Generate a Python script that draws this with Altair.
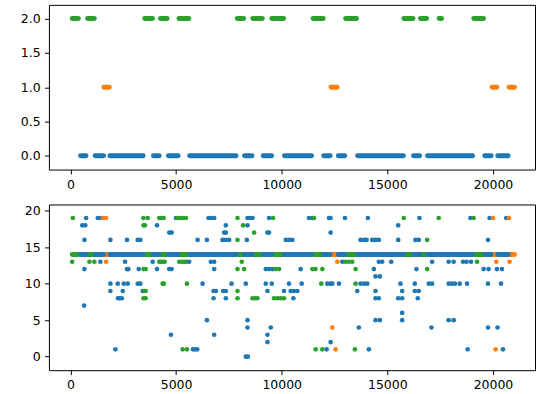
import altair as alt
import pandas as pd

# ---- top panel: runs of consecutive indices per class (start, end, class) ----
run_start = [85, 813, 3519, 4261, 5140, 7898, 8636, 9533, 11489, 13029, 15788, 16572, 17455, 19094,
             1583, 12339, 19959, 20762,
             482, 1172, 1866, 3930, 4639, 5645, 8243, 9127, 10133, 11990, 12684, 13596, 16241, 16903, 19614, 20228]
run_end = [373, 1129, 3883, 4577, 5603, 8201, 9080, 10090, 11961, 13539, 16213, 16860, 17568, 19553,
           1838, 12623, 20181, 21017,
           737, 1568, 3444, 4200, 5097, 7837, 8593, 9524, 11413, 12292, 12986, 15760, 16529, 19033, 19916, 20719]
run_class = [2] * 14 + [1] * 4 + [0] * 16

# ---- bottom panel: the common value of the series and the scattered points ----
base_value = 14
pt_x = [113, 560, 700, 742, 662, 662, 647, 80, 900, 1130, 1294, 1450, 1540, 1680, 1417, 1687, 1890, 1890, 1890,
        2126, 2239, 2250, 2330, 2430, 2475, 2522, 2711, 2584, 2678, 2740, 2678, 3184, 3307, 3184, 3307, 3231, 3420,
        3480, 3560, 3460, 3560, 3460, 3560, 3460, 3530, 3450, 3656, 3893, 4096, 4096, 4205, 4300, 4412,
        4205, 4300, 4380, 4460, 4365, 4420, 4677, 4790, 4677, 4790, 4757, 4993, 5073, 5200, 5330, 5466,
        5150, 5270, 5385, 5310, 5513, 5513, 5500, 5620,
        5800, 5900, 6000, 6538, 6650, 6803, 6647, 6803, 6803, 6254, 6774, 6883, 6774, 6458, 6803, 6018, 6458,
        7355, 7276, 7355, 7200, 7350, 7512, 7908, 7230, 7355, 7355, 7624, 7908, 8380, 8500, 8616, 8173, 8380,
        8692, 8347, 8111, 7908, 8220, 8300, 7908, 7908, 8616, 8730, 8852, 8380, 8380, 8300, 8400,
        9325, 9400, 9400, 9590, 9245, 9400, 9561, 9717, 9873, 9245, 9530, 9325, 9637, 9800, 9950, 10109,
        9482, 9325, 9325, 10190, 10350, 10506, 10346, 10109, 10426, 10580, 10742, 10553, 10899, 10946,
        11290, 11451, 11527, 11451, 11600, 11923, 11607, 11923, 12127, 11876, 12159, 12300, 12395,
        12238, 12316, 12316, 12395, 12552, 12316, 12631, 12710, 12868, 13025, 13180, 13340, 12993,
        13577, 13497, 13497, 13652, 13465, 13733,
        14078, 13900, 14017, 14285, 14440, 14597, 13733, 13900, 14050, 14361, 14441, 14645, 14441, 14441, 14597,
        14441, 14645, 14125, 14597, 14757, 15182, 15513, 15513, 15622, 15702, 15513, 15702, 15702, 15702, 15778,
        16331, 16488, 16883, 16520, 16379, 16883, 16300, 16300, 16488, 16441, 17120, 16962, 17120, 17087, 17432,
        17904, 18140, 17904, 18050, 18200, 18424, 18773, 17904, 18140, 18584, 18750, 18962, 18802, 19246,
        18930, 19085, 19557, 19793, 19765, 19765, 19765, 19841, 20001, 20158, 20190, 20427, 20380, 20218,
        20125, 20474, 20630, 20757, 20787]
pt_y = [19, 18, 18, 19, 16, 12, 7, 13, 13, 13, 19, 19, 19, 19, 13, 13, 16, 10, 9,
        1, 10, 8, 8, 8, 9, 10, 10, 13, 12, 12, 16, 16, 16, 10, 10, 12, 9,
        9, 9, 8, 8, 12, 12, 18, 18, 19, 19, 13, 12, 18, 19, 19, 19,
        13, 13, 13, 13, 10, 10, 17, 17, 12, 12, 3, 19, 19, 19, 19, 19,
        13, 13, 13, 1, 1, 10, 13, 13,
        1, 1, 1, 19, 19, 19, 13, 13, 12, 10, 9, 9, 8, 5, 3, 16, 16,
        18, 17, 17, 16, 16, 16, 16, 9, 9, 8, 10, 19, 19, 19, 19, 18, 18,
        17, 16, 13, 12, 12, 10, 9, 8, 8, 8, 8, 5, 4, 0, 0,
        17, 17, 19, 19, 12, 12, 12, 12, 12, 10, 10, 9, 8, 8, 8, 8,
        4, 3, 2, 16, 16, 16, 10, 9, 9, 9, 9, 8, 12, 10,
        19, 19, 19, 12, 12, 12, 1, 1, 1, 10, 10, 10, 10,
        19, 19, 17, 4, 1, 2, 13, 10, 13, 13, 13, 13, 19,
        9, 12, 10, 4, 1, 16,
        19, 16, 16, 16, 16, 16, 10, 10, 10, 12, 11, 11, 9, 8, 8,
        5, 5, 1, 13, 13, 13, 18, 16, 10, 9, 8, 8, 6, 5, 19,
        16, 16, 16, 19, 12, 12, 10, 9, 9, 8, 13, 10, 10, 4, 19,
        13, 13, 10, 10, 10, 10, 10, 5, 5, 13, 13, 13, 1, 13,
        19, 19, 12, 12, 16, 10, 4, 19, 19, 13, 12, 12, 10, 4,
        1, 1, 19, 19, 13]
pt_class = [2, 0, 0, 0, 0, 0, 0, 2, 2, 2, 0, 0, 1, 1, 0, 1, 0, 0, 0,
            0, 0, 0, 0, 0, 0, 0, 0, 0, 0, 0, 0, 0, 0, 0, 0, 0, 0,
            2, 2, 2, 2, 2, 2, 2, 2, 2, 2, 0, 0, 0, 2, 2, 2,
            2, 2, 2, 2, 2, 2, 0, 0, 0, 0, 0, 0, 2, 2, 2, 2,
            2, 2, 2, 2, 2, 2, 2, 0,
            0, 0, 0, 0, 0, 0, 0, 0, 0, 0, 0, 0, 0, 0, 0, 0, 0,
            0, 0, 0, 0, 0, 0, 2, 0, 0, 0, 0, 2, 0, 0, 0, 2, 0,
            2, 0, 2, 2, 2, 0, 2, 2, 2, 2, 2, 0, 0, 0, 0,
            0, 0, 0, 2, 0, 0, 0, 2, 2, 0, 0, 0, 2, 2, 2, 2,
            0, 0, 0, 0, 0, 0, 0, 0, 0, 0, 0, 0, 0, 0,
            0, 0, 2, 2, 2, 2, 2, 2, 0, 2, 0, 0, 0,
            0, 0, 0, 1, 1, 0, 1, 0, 0, 2, 2, 2, 0,
            0, 2, 2, 0, 2, 0,
            0, 0, 0, 0, 0, 0, 0, 0, 0, 0, 0, 0, 0, 0, 0,
            0, 0, 0, 0, 0, 0, 0, 0, 0, 0, 0, 0, 0, 0, 2,
            0, 0, 2, 0, 0, 2, 0, 0, 0, 0, 0, 0, 0, 0, 2,
            0, 0, 0, 0, 0, 0, 0, 0, 0, 0, 0, 0, 0, 2,
            0, 2, 0, 0, 0, 0, 0, 0, 1, 1, 0, 0, 0, 0,
            1, 0, 0, 1, 1]

class_domain = [0, 1, 2]
class_colors = ["#1f77b4", "#ff7f0e", "#2ca02c"]

x_ticks = [0, 5000, 10000, 15000, 20000]
top_y_ticks = [0.0, 0.5, 1.0, 1.5, 2.0]
bottom_y_ticks = [0, 5, 10, 15, 20]

runs = pd.DataFrame({"start": run_start, "end": run_end, "cls": run_class})
runs["base"] = base_value
pts = pd.DataFrame({"x": pt_x, "y": pt_y, "cls": pt_class})

color = alt.Color("cls:N", scale=alt.Scale(domain=class_domain, range=class_colors), legend=None)
x_scale = alt.Scale(domain=[-1020, 21990], nice=False, zero=False)


def axis(vals, fmt):
    return alt.Axis(values=vals, format=fmt, title=None, grid=False, domain=False,
                    labelFont="DejaVu Sans", labelFontSize=12.5, labelColor="#000000",
                    tickColor="#000000", tickSize=4.4, tickWidth=1, labelPadding=4.4)


W, H = 487, 165

top = alt.Chart(runs).mark_rule(strokeWidth=5, strokeCap="round").encode(
    x=alt.X("start:Q", scale=x_scale, axis=axis(x_ticks, "d")),
    x2="end:Q",
    y=alt.Y("cls:Q", scale=alt.Scale(domain=[-0.2, 2.2], nice=False, zero=False),
            axis=axis(top_y_ticks, ".1f")),
    color=color,
).properties(width=W, height=H)

y_bottom = alt.Scale(domain=[-1.85, 20.85], nice=False, zero=False)
bottom_line = alt.Chart(runs).mark_rule(strokeWidth=5, strokeCap="round").encode(
    x=alt.X("start:Q", scale=x_scale, axis=axis(x_ticks, "d")),
    x2="end:Q",
    y=alt.Y("base:Q", scale=y_bottom, axis=axis(bottom_y_ticks, "d")),
    color=color,
)
bottom_pts = alt.Chart(pts).mark_circle(size=22, opacity=1).encode(
    x=alt.X("x:Q", scale=x_scale, axis=axis(x_ticks, "d")),
    y=alt.Y("y:Q", scale=y_bottom, axis=axis(bottom_y_ticks, "d")),
    color=color,
)
bottom = alt.layer(bottom_line, bottom_pts).properties(width=W, height=H + 1)

chart = alt.vconcat(top, bottom, spacing=12).properties(
    padding={"left": 19, "top": 3.5, "right": 0, "bottom": 0},
    background="white",
).configure_view(stroke="#000000", strokeWidth=1)

chart.save("out.html", embed_options={"renderer": "svg", "actions": False})
